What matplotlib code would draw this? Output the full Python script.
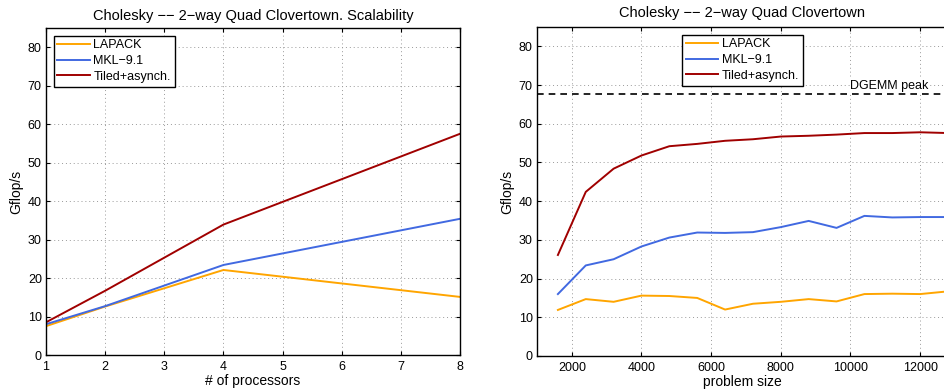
import matplotlib
matplotlib.use("Agg")
import matplotlib.pyplot as plt

plt.rcParams['font.family'] = ['Liberation Sans', 'DejaVu Sans']

# scalability (left)
procs = [1, 2, 4, 8]
lapack_p = [7.5, 12.6, 22.1, 15.1]
mkl_p = [8.0, 12.7, 23.4, 35.4]
tiled_p = [8.5, 16.7, 33.9, 57.5]

# problem size (right)
sizes = [1600, 2400, 3200, 4000, 4800, 5600, 6400, 7200, 8000, 8800,
         9600, 10400, 11200, 12000, 12800]
lapack_n = [11.9, 14.7, 14.0, 15.6, 15.5, 15.0, 12.0, 13.5, 14.0, 14.7,
            14.1, 16.0, 16.1, 16.0, 16.7]
mkl_n = [16.0, 23.4, 25.0, 28.3, 30.6, 31.9, 31.8, 32.0, 33.3, 34.9,
         33.1, 36.2, 35.8, 35.9, 35.9]
tiled_n = [26.1, 42.4, 48.4, 51.8, 54.2, 54.8, 55.6, 56.0, 56.7, 56.9,
           57.2, 57.6, 57.6, 57.8, 57.6]
dgemm_peak = 67.6

names = ['LAPACK', 'MKL\u22129.1', 'Tiled+asynch.']
colors = ['#ffa500', '#4169e1', '#a00000']

fig = plt.figure(figsize=(9.45, 3.89), dpi=100)
W, H = 945.0, 389.0
ax1 = fig.add_axes([46 / W, 1 - 355 / H, 414 / W, 327 / H])
ax2 = fig.add_axes([537 / W, 1 - 356 / H, 411 / W, 329 / H])


def style(ax):
    ax.set_ylim(0, 85)
    ax.set_yticks(range(0, 81, 10))
    ax.grid(True, linestyle=(0, (1, 3)), color='#999999', linewidth=0.7)
    ax.tick_params(direction='in', top=True, right=True, labelsize=9,
                   length=3, width=0.8, pad=3)
    ax.tick_params(axis='x', pad=4)
    for s in ax.spines.values():
        s.set_linewidth(1.0)


def add_legend(ax, loc):
    leg = ax.legend(loc=loc, fontsize=9, fancybox=False, framealpha=1,
                    edgecolor='black', borderpad=0.3, handlelength=2.6,
                    labelspacing=0.3, handletextpad=0.3, borderaxespad=0.6)
    leg.get_frame().set_linewidth(1.0)


for ys, c, n in zip([lapack_p, mkl_p, tiled_p], colors, names):
    ax1.plot(procs, ys, color=c, lw=1.4, label=n)
ax1.set_xlim(1, 8)
ax1.set_xticks(range(1, 9))
style(ax1)
ax1.set_title('Cholesky \u2212\u2212 2\u2212way Quad Clovertown. Scalability', fontsize=10.5, pad=6)
ax1.set_xlabel('# of processors', fontsize=10, labelpad=1)
ax1.set_ylabel('Gflop/s', fontsize=10, labelpad=3)
add_legend(ax1, 'upper left')

for ys, c, n in zip([lapack_n, mkl_n, tiled_n], colors, names):
    ax2.plot(sizes, ys, color=c, lw=1.4, label=n)
ax2.axhline(dgemm_peak, color='black', ls=(0, (4, 3)), lw=1.2)
ax2.text(10000, dgemm_peak + 0.6, 'DGEMM peak', fontsize=9, va='bottom',
         ha='left', bbox=dict(facecolor='white', edgecolor='none', pad=0.5))
ax2.set_xlim(1000, 12800)
ax2.set_xticks(range(2000, 12001, 2000))
style(ax2)
ax2.set_title('Cholesky \u2212\u2212 2\u2212way Quad Clovertown', fontsize=10.5, pad=7)
ax2.set_xlabel('problem size', fontsize=10, labelpad=1)
ax2.set_ylabel('Gflop/s', fontsize=10, labelpad=3)
add_legend(ax2, 'upper center')

fig.savefig('out.png', dpi=100)
